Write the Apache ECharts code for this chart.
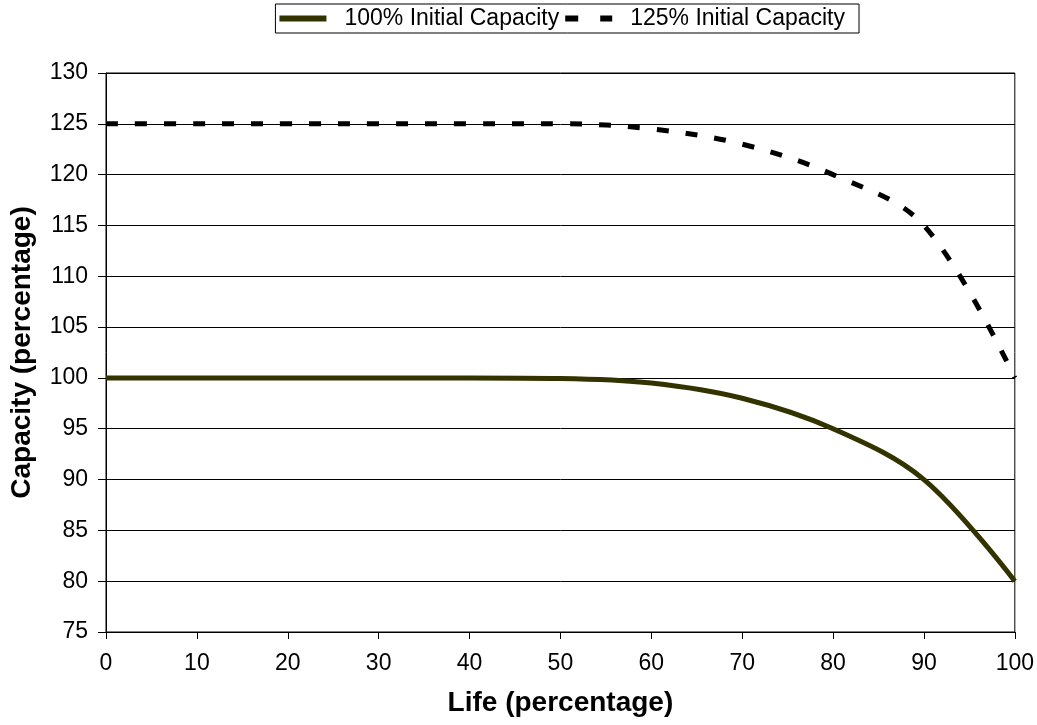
<!DOCTYPE html>
<html>
<head>
<meta charset="utf-8">
<script src="https://cdn.jsdelivr.net/npm/echarts@6/dist/echarts.min.js"></script>
<style>
html,body{margin:0;padding:0;background:#fff;}
#chart{width:1037px;height:725px;}
</style>
</head>
<body>
<div id="chart"></div>
<script>
const lifePct = [0, 10, 20, 30, 40, 50, 60, 70, 80, 90, 100];
const cap100 = [100, 100, 100, 100, 100, 99.95, 99.5, 98, 95, 90, 80];
const cap125 = [125, 125, 125, 125, 125, 125, 124.5, 123, 120, 115, 100];
const seriesNames = ['100% Initial Capacity', '125% Initial Capacity'];
const xTitle = 'Life (percentage)';
const yTitle = 'Capacity (percentage)';

const chart = echarts.init(document.getElementById('chart'), null, {renderer: 'canvas'});
const font = 'Liberation Sans, Arial, sans-serif';
chart.setOption({
  animation: false,
  backgroundColor: '#fff',
  legend: {
    top: 4,
    right: 178,
    padding: [3, 14, 3, 4],
    itemGap: 6,
    itemWidth: 47,
    itemHeight: 6,
    borderColor: '#000',
    borderWidth: 1,
    borderRadius: 0,
    textStyle: {fontFamily: font, fontSize: 23, color: '#000', padding: [0, 0, 0, 13]},
    data: [
      {name: seriesNames[0], icon: 'path://M0,0H47V6H0Z', itemStyle: {color: '#333300'}},
      {name: seriesNames[1], icon: 'path://M0,0H13V6H0Z M35,0H47V6H35Z', itemStyle: {color: '#000'}}
    ]
  },
  grid: {
    left: 104, right: 17, top: 73, bottom: 93,
    show: true, borderColor: '#000', borderWidth: 1,
    containLabel: false
  },
  xAxis: {
    type: 'value', min: 0, max: 100, interval: 10,
    name: xTitle, nameLocation: 'middle', nameGap: 57,
    nameTextStyle: {fontFamily: font, fontSize: 28, fontWeight: 'bold', color: '#000'},
    axisLine: {show: true, onZero: false, lineStyle: {color: '#000', width: 1}},
    axisTick: {show: true, inside: false, length: 7, lineStyle: {color: '#000'}},
    axisLabel: {fontFamily: font, fontSize: 23, color: '#000', margin: 20},
    splitLine: {show: false}
  },
  yAxis: {
    type: 'value', min: 75, max: 130, interval: 5,
    name: yTitle, nameLocation: 'middle', nameGap: 70,
    nameTextStyle: {fontFamily: font, fontSize: 28, fontWeight: 'bold', color: '#000'},
    axisLine: {show: true, lineStyle: {color: '#000', width: 1}},
    axisTick: {show: true, inside: false, length: 8, lineStyle: {color: '#000'}},
    axisLabel: {fontFamily: font, fontSize: 23, color: '#000', margin: 18},
    splitLine: {show: true, lineStyle: {color: '#000', width: 1}}
  },
  series: [
    {
      name: seriesNames[0], type: 'line', smooth: 0.35, symbol: 'none',
      data: lifePct.map((x, i) => [x, cap100[i]]),
      lineStyle: {color: '#333300', width: 5, type: 'solid'},
      itemStyle: {color: '#333300'}
    },
    {
      name: seriesNames[1], type: 'line', smooth: 0.35, symbol: 'none',
      data: lifePct.map((x, i) => [x, cap125[i]]),
      lineStyle: {color: '#000', width: 5, type: [12, 17]},
      itemStyle: {color: '#000'}
    }
  ]
});
</script>
</body>
</html>
